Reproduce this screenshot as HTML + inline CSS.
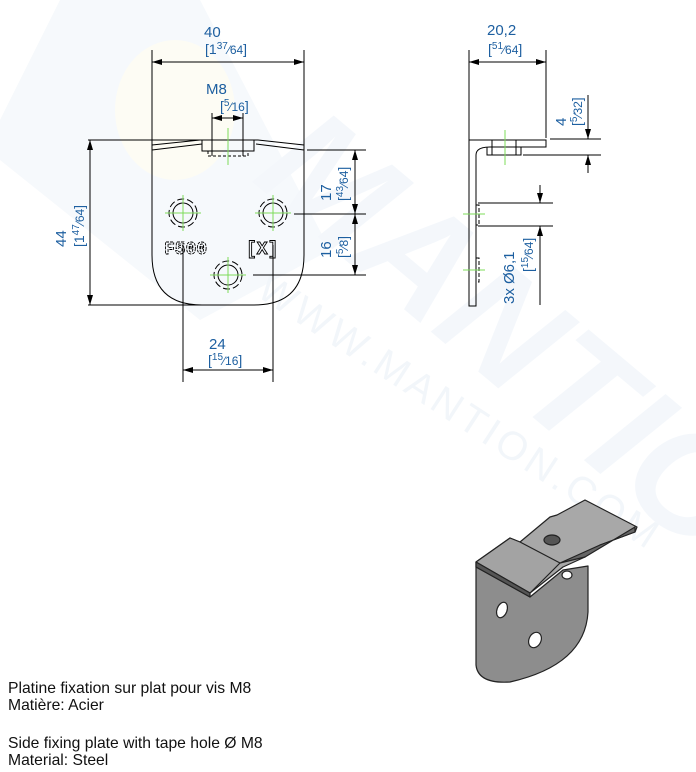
<!DOCTYPE html>
<html><head><meta charset="utf-8"><style>
html,body{margin:0;padding:0;background:#fff;}
body{width:696px;height:772px;overflow:hidden;position:relative;font-family:"Liberation Sans",sans-serif;}
.t{position:absolute;left:8px;font-size:15.7px;color:#111;line-height:17px;}
</style></head><body>
<svg width="696" height="772" viewBox="0 0 696 772" xmlns="http://www.w3.org/2000/svg" style="position:absolute;left:0;top:0">
<defs>
<marker id="a" viewBox="0 0 10 6" refX="10" refY="3" markerWidth="10" markerHeight="6" orient="auto-start-reverse" markerUnits="userSpaceOnUse"><path d="M0,0 L10,3 L0,6 Z" fill="#000"/></marker>
</defs>
<g opacity="0.45">
<polygon points="60,0 200,0 330,250 200,320 0,160 0,120" fill="#eaf1f8"/>
<ellipse cx="175" cy="110" rx="60" ry="70" fill="#fbf8e6"/>
<text x="0" y="0" transform="translate(250,180) rotate(40)" font-family="Liberation Sans" font-weight="bold" font-style="italic" font-size="150" fill="#e6eef7">MANTION</text>
<text x="0" y="0" transform="translate(255,295) rotate(33)" font-family="Liberation Sans" font-size="40" fill="#e3ebf3" letter-spacing="4">WWW.MANTION.COM</text>
</g>
<g fill="none" stroke="#000" stroke-width="1">
<path d="M152,150 L152,255 Q152,305 202,305 L254,305 Q304,305 304,255 L304,150"/>
<path d="M152,145 L200,140 L258,140 L304,145"/>
<path d="M152,150 L202,144 M256,144 L304,150"/>
<rect x="202" y="140" width="52" height="11"/>
<path d="M208,151 L208,156 L248,156 L248,151" stroke-dasharray="3,2"/>
<path d="M212,140 L212,156 M243,140 L243,156"/>
<circle cx="183" cy="213" r="10"/><circle cx="183" cy="213" r="14" stroke-dasharray="7,3"/>
<circle cx="273" cy="213" r="10"/><circle cx="273" cy="213" r="14" stroke-dasharray="7,3"/>
<circle cx="228" cy="275" r="10"/><circle cx="228" cy="275" r="14" stroke-dasharray="7,3"/>
<line x1="152" y1="50" x2="152" y2="150"/><line x1="304" y1="50" x2="304" y2="150"/>
<line x1="152" y1="62" x2="304" y2="62" marker-start="url(#a)" marker-end="url(#a)"/>
<line x1="212" y1="113" x2="212" y2="140"/><line x1="243" y1="113" x2="243" y2="140"/>
<line x1="212" y1="118" x2="243" y2="118" marker-start="url(#a)" marker-end="url(#a)"/>
<line x1="88" y1="140" x2="200" y2="140"/><line x1="88" y1="305" x2="210" y2="305"/>
<line x1="90" y1="140" x2="90" y2="305" marker-start="url(#a)" marker-end="url(#a)"/>
<line x1="307" y1="150" x2="366" y2="150"/><line x1="294" y1="214" x2="366" y2="214"/><line x1="253" y1="275" x2="366" y2="275"/>
<line x1="355" y1="150" x2="355" y2="214" marker-start="url(#a)" marker-end="url(#a)"/>
<line x1="355" y1="214" x2="355" y2="275" marker-start="url(#a)" marker-end="url(#a)"/>
<line x1="183" y1="245" x2="183" y2="382"/><line x1="273" y1="245" x2="273" y2="382"/>
<line x1="183" y1="370" x2="273" y2="370" marker-start="url(#a)" marker-end="url(#a)"/>
<path d="M469,306 L469,140 L546,140 L546,147 L490,147 Q476,147 476,155 L476,306 Z"/>
<path d="M487,147 L487,155 L521,155 L521,147"/>
<path d="M492,140 L492,155 M516,140 L516,155"/>
<path d="M476,205 L479,205 L479,225 L476,225 M476,258 L479,258 L479,282 L476,282" stroke-dasharray="4,2"/>
<line x1="469" y1="50" x2="469" y2="140"/><line x1="546" y1="50" x2="546" y2="138"/>
<line x1="469" y1="62" x2="546" y2="62" marker-start="url(#a)" marker-end="url(#a)"/>
<line x1="550" y1="139" x2="601" y2="139"/><line x1="523" y1="155" x2="601" y2="155"/>
<line x1="588" y1="95" x2="588" y2="139" marker-end="url(#a)"/>
<line x1="588" y1="173" x2="588" y2="155" marker-end="url(#a)"/>
<line x1="478" y1="203" x2="553" y2="203"/><line x1="478" y1="226" x2="553" y2="226"/>
<line x1="540" y1="185" x2="540" y2="203" marker-end="url(#a)"/>
<line x1="540" y1="305" x2="540" y2="226" marker-end="url(#a)"/>
</g>
<g stroke="#7ddc5a" stroke-width="1">
<line x1="228" y1="128" x2="228" y2="165"/>
<line x1="165" y1="213" x2="201" y2="213"/><line x1="183" y1="195" x2="183" y2="231"/>
<line x1="255" y1="213" x2="291" y2="213"/><line x1="273" y1="195" x2="273" y2="231"/>
<line x1="210" y1="275" x2="246" y2="275"/><line x1="228" y1="257" x2="228" y2="293"/>
<line x1="505" y1="130" x2="505" y2="165"/>
<line x1="463" y1="214" x2="485" y2="214"/><line x1="463" y1="270" x2="485" y2="270"/>
</g>
<text x="164" y="254" font-family="Liberation Mono" font-size="18" font-weight="bold" fill="none" stroke="#000" stroke-width="0.9" stroke-dasharray="3,1">F500</text>
<text x="246" y="254" font-family="Liberation Mono" font-size="18" font-weight="bold" fill="none" stroke="#000" stroke-width="0.9">[X]</text>
<g fill="#1d5fa0" font-family="Liberation Sans">
<text x="204" y="37" font-size="15">40</text>
<text x="205" y="54" font-size="14">[1<tspan font-size="10" dy="-5">37</tspan><tspan font-size="12" dy="5">⁄64</tspan>]</text>
<text x="206" y="94" font-size="15">M8</text>
<text x="220" y="111" font-size="14">[<tspan font-size="10" dy="-5">5</tspan><tspan font-size="12" dy="5">⁄16</tspan>]</text>
<text x="209" y="349" font-size="15">24</text>
<text x="208" y="365" font-size="14">[<tspan font-size="10" dy="-5">15</tspan><tspan font-size="12" dy="5">⁄16</tspan>]</text>
<text x="487" y="35" font-size="15">20,2</text>
<text x="488" y="54" font-size="14">[<tspan font-size="10" dy="-5">51</tspan><tspan font-size="12" dy="5">⁄64</tspan>]</text>
<text transform="translate(66,247) rotate(-90)" font-size="15">44</text>
<text transform="translate(84,247) rotate(-90)" font-size="14">[1<tspan font-size="10" dy="-5">47</tspan><tspan font-size="12" dy="5">⁄64</tspan>]</text>
<text transform="translate(331,201) rotate(-90)" font-size="15">17</text>
<text transform="translate(348,201) rotate(-90)" font-size="14">[<tspan font-size="10" dy="-5">43</tspan><tspan font-size="12" dy="5">⁄64</tspan>]</text>
<text transform="translate(331,258) rotate(-90)" font-size="15">16</text>
<text transform="translate(348,258) rotate(-90)" font-size="14">[<tspan font-size="10" dy="-5">5</tspan><tspan font-size="12" dy="5">⁄8</tspan>]</text>
<text transform="translate(566,126) rotate(-90)" font-size="15">4</text>
<text transform="translate(582,126) rotate(-90)" font-size="14">[<tspan font-size="10" dy="-5">5</tspan><tspan font-size="12" dy="5">⁄32</tspan>]</text>
<text transform="translate(514,304) rotate(-90)" font-size="15">3x Ø6,1</text>
<text transform="translate(533,272) rotate(-90)" font-size="14">[<tspan font-size="10" dy="-5">15</tspan><tspan font-size="12" dy="5">⁄64</tspan>]</text>
</g>
<g stroke="#222" stroke-width="1.2" stroke-linejoin="round">
<path d="M476,567 L530,597 L563,570 L588,566 L588,612 Q585,665 510,682 Q478,684 476,665 Z" fill="#8d8d8d"/>
<polygon points="476,562 510,538 520,542 550,517 557,515 585,500 637,527 635,532 600,545 585,557 563,567 530,593 476,567" fill="#a8a8a8"/>
<polygon points="476,562 510,538 520,542 560,563 530,593" fill="#a3a3a3"/>
<polygon points="530,593 530,597 476,567 476,562" fill="#555"/>
<polygon points="560,563 600,545 635,532 635,527 585,557" fill="#666"/>
<ellipse cx="552" cy="540" rx="8" ry="5" fill="#555"/>
<ellipse cx="502" cy="610" rx="5" ry="8" fill="#fff" transform="rotate(20 502 610)"/>
<ellipse cx="535" cy="640" rx="6" ry="8" fill="#fff" transform="rotate(25 535 640)"/>
<ellipse cx="567" cy="575" rx="5" ry="4" fill="#fff"/>
</g>
</svg>
<div class="t" style="top:680px">Platine fixation sur plat pour vis M8<br>Matière: Acier</div>
<div class="t" style="top:735px">Side fixing plate with tape hole Ø M8<br>Material: Steel</div>
</body></html>
